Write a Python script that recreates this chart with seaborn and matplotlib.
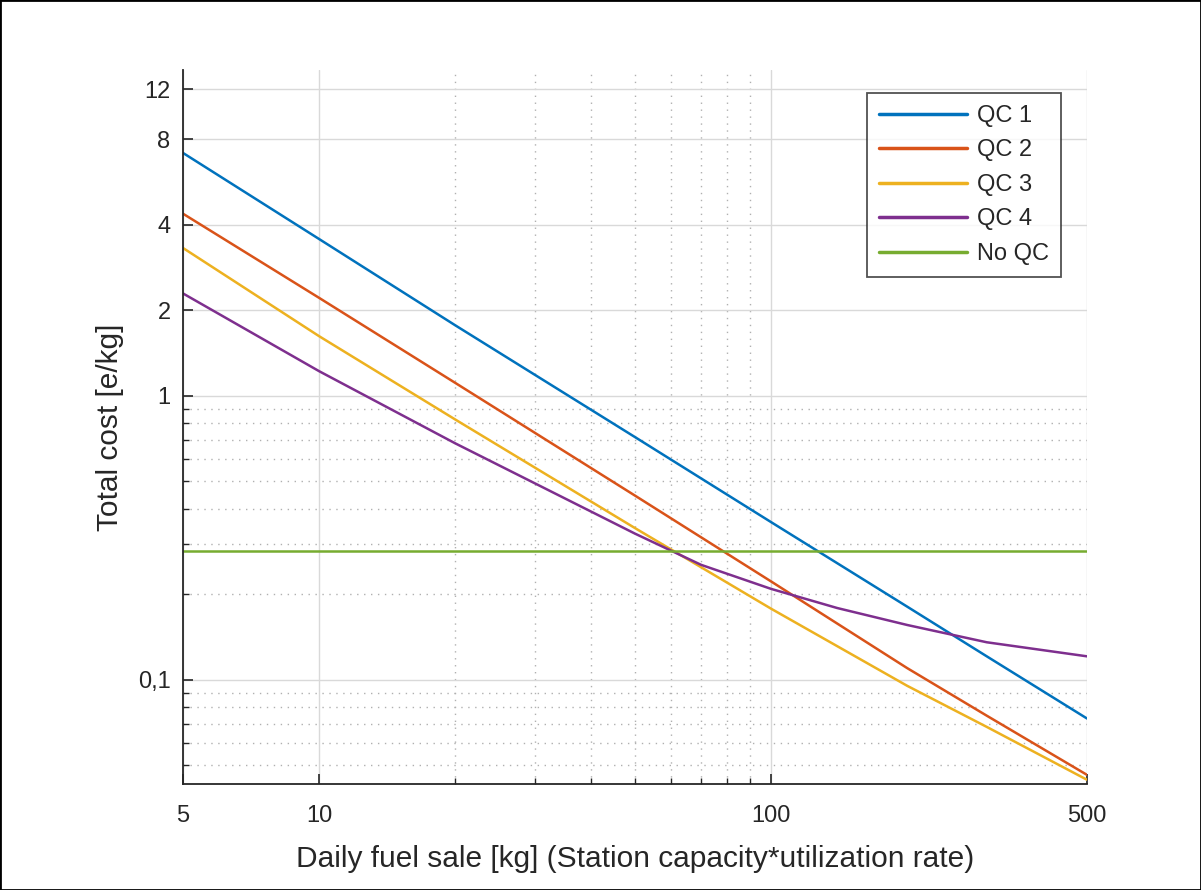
import matplotlib
matplotlib.use("Agg")
import matplotlib.pyplot as plt
from matplotlib.ticker import FixedLocator, NullFormatter
from matplotlib.patches import Rectangle
import seaborn as sns
import pandas as pd

# daily fuel sale [kg]
fuel_sale = [5, 10, 20, 50, 100, 200, 300, 500]
# QC 4 bends, so it was read at more points
qc4_sale = [5, 10, 20, 50, 70, 100, 140, 200, 300, 500]

# total cost [e/kg]
qc1 = [7.15, 3.56, 1.77, 0.715, 0.359, 0.181, 0.121, 0.0731]
qc2 = [4.37, 2.21, 1.11, 0.445, 0.222, 0.11, 0.0748, 0.0463]
qc3 = [3.31, 1.62, 0.825, 0.342, 0.178, 0.0953, 0.0683, 0.0445]
qc4 = [2.29, 1.22, 0.68, 0.327, 0.254, 0.209, 0.179, 0.156, 0.1356, 0.121]
no_qc = [0.284] * len(fuel_sale)

series_names = ["QC 1", "QC 2", "QC 3", "QC 4", "No QC"]
series_colors = ["#0072BD", "#D95319", "#EDB120", "#7E2F8E", "#77AC30"]

ytick_vals = [0.1, 1, 2, 4, 8, 12]
ytick_labels = ["0,1", "1", "2", "4", "8", "12"]
xtick_vals = [5, 10, 100, 500]
xtick_labels = ["5", "10", "100", "500"]

rows = []
for name, xs, vals in zip(series_names,
                          [fuel_sale, fuel_sale, fuel_sale, qc4_sale, fuel_sale],
                          [qc1, qc2, qc3, qc4, no_qc]):
    for x, y in zip(xs, vals):
        rows.append({"sale": x, "cost": y, "series": name})
df = pd.DataFrame(rows)

sns.set_style("white")
plt.rcParams["font.family"] = ["Liberation Sans", "DejaVu Sans"]

fig = plt.figure(figsize=(12.01, 8.9), dpi=100)
ax = fig.add_axes([0.1524, 0.1191, 0.7527, 0.8022])

sns.lineplot(data=df, x="sale", y="cost", hue="series", hue_order=series_names,
             palette=series_colors, linewidth=1.8, sort=False, ax=ax, legend=False)

ax.set_xscale("log")
ax.set_yscale("log")
ax.set_xlim(5, 500)
ax.set_ylim(0.043, 14)

ax.xaxis.set_major_locator(FixedLocator(xtick_vals))
ax.set_xticklabels(xtick_labels)
ax.xaxis.set_minor_locator(FixedLocator([20, 30, 40, 50, 60, 70, 80, 90]))
ax.xaxis.set_minor_formatter(NullFormatter())
ax.yaxis.set_major_locator(FixedLocator(ytick_vals))
ax.set_yticklabels(ytick_labels)
ax.yaxis.set_minor_locator(FixedLocator([0.05, 0.06, 0.07, 0.08, 0.09,
                                         0.2, 0.3, 0.4, 0.5, 0.6, 0.7, 0.8, 0.9]))
ax.yaxis.set_minor_formatter(NullFormatter())

ax.grid(True, which="major", color="#d9d9d9", linewidth=1, linestyle="-")
ax.grid(True, which="minor", color="#b0b0b0", linewidth=1, linestyle=(0, (1, 4)))
ax.set_axisbelow(True)

ax.tick_params(which="both", direction="in", colors="#262626", labelsize=17,
               left=True, bottom=True)
ax.tick_params(which="major", length=7, width=1.2)
ax.tick_params(which="minor", length=4, width=1)
ax.tick_params(axis="x", which="major", pad=15)
ax.tick_params(axis="y", which="major", pad=9)

for side in ["top", "right"]:
    ax.spines[side].set_visible(False)
for side in ["left", "bottom"]:
    ax.spines[side].set_color("#262626")
    ax.spines[side].set_linewidth(1.3)

ax.set_xlabel("Daily fuel sale [kg] (Station capacity*utilization rate)",
              fontsize=21.5, color="#262626", labelpad=13)
ax.set_ylabel("Total cost [e/kg]", fontsize=21.5, color="#262626", labelpad=10)

handles = ax.get_lines()[:len(series_names)]
leg = ax.legend(handles, series_names, loc="upper right", fontsize=17,
                frameon=True, fancybox=False, edgecolor="#262626",
                handlelength=3.7, labelspacing=0.53, borderpad=0.5,
                handletextpad=0.45, borderaxespad=0,
                bbox_to_anchor=(0.9712, 0.9678))
leg.get_frame().set_linewidth(1.3)
for line in leg.get_lines():
    line.set_linewidth(2.5)

fig.patches.append(Rectangle((0, 0), 1, 1, transform=fig.transFigure,
                             fill=False, edgecolor="black", linewidth=2))

fig.savefig("out.png", dpi=100)
